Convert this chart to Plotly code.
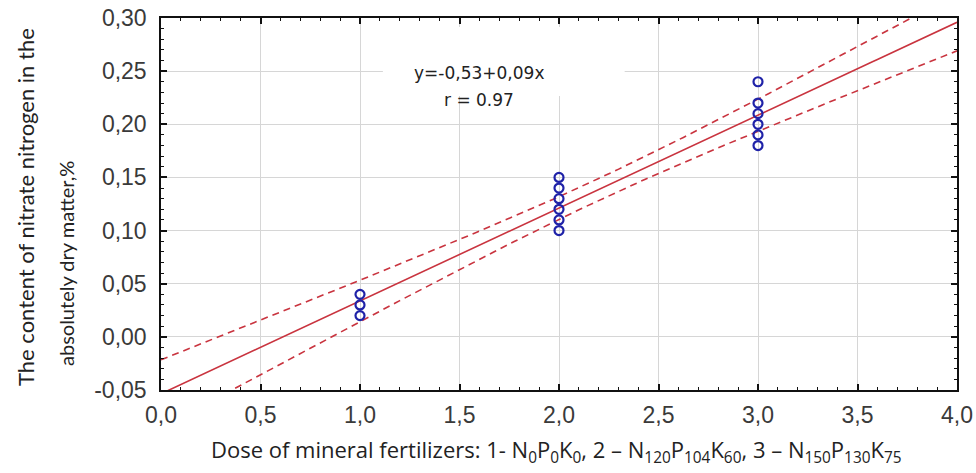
import numpy as np
import plotly.graph_objects as go

# ---- data ----
dose_1 = [1, 1, 1]
nitrate_1 = [0.02, 0.03, 0.04]
dose_2 = [2, 2, 2, 2, 2, 2]
nitrate_2 = [0.10, 0.11, 0.12, 0.13, 0.14, 0.15]
dose_3 = [3, 3, 3, 3, 3, 3]
nitrate_3 = [0.18, 0.19, 0.20, 0.21, 0.22, 0.24]

x_tickvals = [0.0, 0.5, 1.0, 1.5, 2.0, 2.5, 3.0, 3.5, 4.0]
x_ticktext = ["0,0", "0,5", "1,0", "1,5", "2,0", "2,5", "3,0", "3,5", "4,0"]
y_tickvals = [-0.05, 0.0, 0.05, 0.10, 0.15, 0.20, 0.25, 0.30]
y_ticktext = ["-0,05", "0,00", "0,05", "0,10", "0,15", "0,20", "0,25", "0,30"]

equation_text = "y=-0,53+0,09x"
r_text = "r = 0.97"
x_title = ("Dose of mineral fertilizers: 1- N<sub>0</sub>P<sub>0</sub>K<sub>0</sub>, "
           "2 \u2013 N<sub>120</sub>P<sub>104</sub>K<sub>60</sub>, "
           "3 \u2013 N<sub>150</sub>P<sub>130</sub>K<sub>75</sub>")
y_title_1 = "The content of nitrate nitrogen in the"
y_title_2 = "absolutely dry matter,%"

T_CRIT = 2.160  # t(0.975, df=13)

# ---- regression with 95% confidence band ----
xs = np.array(dose_1 + dose_2 + dose_3, dtype=float)
ys = np.array(nitrate_1 + nitrate_2 + nitrate_3, dtype=float)
slope, intercept = np.polyfit(xs, ys, 1)
n = len(xs)
resid = ys - (intercept + slope * xs)
s = np.sqrt(np.sum(resid ** 2) / (n - 2))
sxx = np.sum((xs - xs.mean()) ** 2)
xfit = np.linspace(0, 4, 161)
yfit = intercept + slope * xfit
half = T_CRIT * s * np.sqrt(1.0 / n + (xfit - xs.mean()) ** 2 / sxx)

RED = "#c9343f"
BLUE = "#1f22a8"

fig = go.Figure()
fig.add_trace(go.Scatter(x=xfit, y=yfit + half, mode="lines",
                         line=dict(color=RED, width=1.6, dash="7px,5px"), hoverinfo="skip"))
fig.add_trace(go.Scatter(x=xfit, y=yfit - half, mode="lines",
                         line=dict(color=RED, width=1.6, dash="7px,5px"), hoverinfo="skip"))
fig.add_trace(go.Scatter(x=xfit, y=yfit, mode="lines",
                         line=dict(color=RED, width=1.6), hoverinfo="skip"))
fig.add_trace(go.Scatter(x=xs, y=ys, mode="markers",
                         marker=dict(symbol="circle-open", size=9, color=BLUE,
                                     line=dict(width=2.2, color=BLUE))))

tickfont = dict(family="Liberation Sans, Arial, sans-serif", size=23, color="#3a3a3a")

fig.update_xaxes(range=[0, 4], tickvals=x_tickvals, ticktext=x_ticktext, automargin=False,
                 showgrid=True, gridcolor="#d6d6d6", gridwidth=1, zeroline=False,
                 showline=True, linecolor="#111", linewidth=1.5, mirror="allticks",
                 ticks="inside", ticklen=6, tickwidth=2, tickcolor="#111",
                 minor=dict(dtick=0.1, ticks="inside", ticklen=3, tickwidth=1,
                            tickcolor="#111", showgrid=False),
                 tickfont=tickfont, ticklabelstandoff=4)
fig.update_yaxes(range=[-0.05, 0.30], tickvals=y_tickvals, ticktext=y_ticktext, automargin=False,
                 showgrid=True, gridcolor="#d6d6d6", gridwidth=1, zeroline=False,
                 showline=True, linecolor="#111", linewidth=1.5, mirror="allticks",
                 ticks="inside", ticklen=6, tickwidth=2, tickcolor="#111",
                 minor=dict(dtick=0.01, ticks="inside", ticklen=3, tickwidth=1,
                            tickcolor="#111", showgrid=False),
                 tickfont=tickfont, ticklabelstandoff=8)

# white box behind the equation (covers the grid)
fig.add_shape(type="rect", xref="x", yref="y", x0=1.115, x1=2.33, y0=0.2265, y1=0.2915,
              fillcolor="white", line=dict(width=0), layer="above")

eqfont = dict(family="DejaVu Sans, Verdana, sans-serif", size=17, color="#222")
fig.add_annotation(x=1.6, y=0.2485, xref="x", yref="y", text=equation_text,
                   showarrow=False, font=eqfont, xanchor="center", yanchor="middle")
fig.add_annotation(x=1.6, y=0.2230, xref="x", yref="y", text=r_text,
                   showarrow=False, font=eqfont, xanchor="center", yanchor="middle")

fig.add_annotation(x=25, y=207, xref="paper", yref="paper", text=y_title_1,
                   showarrow=False, textangle=-90,
                   font=dict(family="Lato, Open Sans, sans-serif", size=22, color="#222"),
                   xanchor="center", yanchor="middle")
fig.add_annotation(x=66, y=264, xref="paper", yref="paper", text=y_title_2,
                   showarrow=False, textangle=-90,
                   font=dict(family="Lato, Open Sans, sans-serif", size=20, color="#222"),
                   xanchor="center", yanchor="middle")
fig.add_annotation(x=556, y=451, xref="paper", yref="paper", text=x_title,
                   showarrow=False, xanchor="center", yanchor="middle",
                   font=dict(family="Open Sans, Lato, sans-serif", size=22, color="#222"))

# convert pixel positions of titles to paper coordinates
L, R, T, B = 161, 19, 18, 83
W, H = 976, 473
pw, ph = W - L - R, H - T - B
for ann in fig.layout.annotations:
    if ann.xref == "paper":
        ann.x = (ann.x - L) / pw
        ann.y = (H - B - ann.y) / ph

fig.update_layout(width=W, height=H, margin=dict(l=L, r=R, t=T, b=B),
                  paper_bgcolor="white", plot_bgcolor="white", showlegend=False)

fig.write_html("out.html", config={"displayModeBar": False},
               post_script="document.body.style.margin='0';")
